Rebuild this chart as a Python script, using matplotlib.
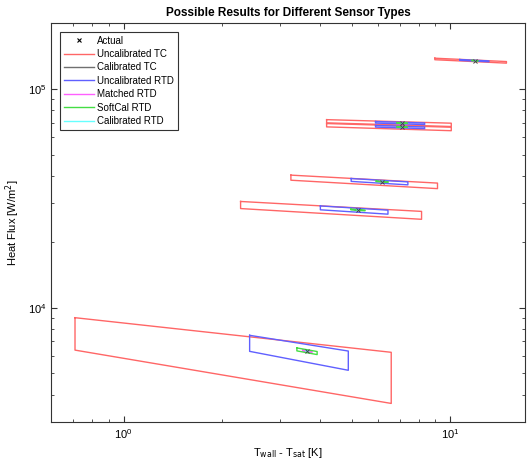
import numpy as np
import matplotlib
matplotlib.use('Agg')
import matplotlib.pyplot as plt
from matplotlib.ticker import NullFormatter
from matplotlib.lines import Line2D

plt.rcParams['font.family'] = ['Liberation Sans', 'DejaVu Sans']

# test cases: actual superheat [K], actual heat flux [W/m^2], slope dq/dT of the error band
case_dT = [3.65, 5.22, 6.19, 7.12, 7.12, 11.9]
case_q = [6320, 27950, 37660, 69800, 66900, 134600]
case_slope = [-467, -516, -551, -450, -450, -816]

# uncertainty of each sensor type: half width in dT [K] and half height in q [W/m^2]
sensor_names = ['Uncalibrated TC', 'Calibrated TC', 'Uncalibrated RTD',
                'Matched RTD', 'SoftCal RTD', 'Calibrated RTD']
sensor_colors = ['#ff6666', '#707070', '#6060ff', '#ff60ff', '#44dd44', '#66ffff']
sensor_dx = [2.94, 0.06, 1.22, 0.12, 0.26, 0.03]
sensor_dq = [1200, 30, 580, 45, 100, 15]
# uncalibrated TC flux band changes a little from case to case
tc_dq = [1300, 1100, 1050, 1200, 1200, 1100]


def box(x0, q0, s, dx, dq):
    xs = [x0 - dx, x0 - dx, x0 + dx, x0 + dx, x0 - dx]
    qs = [q0 - s*dx + dq, q0 - s*dx - dq, q0 + s*dx - dq, q0 + s*dx + dq, q0 - s*dx + dq]
    return xs, qs


fig = plt.figure(figsize=(5.27, 4.65), dpi=100)
ax = fig.add_axes([0.097, 0.0925, 0.899, 0.858])

for k in range(len(sensor_names)):
    for i in range(len(case_dT)):
        dq = tc_dq[i] if k == 0 else sensor_dq[k]
        xs, qs = box(case_dT[i], case_q[i], case_slope[i], sensor_dx[k], dq)
        ax.plot(xs, qs, '-', color=sensor_colors[k], lw=1.0, zorder=2+k)

ax.plot(case_dT, case_q, 'x', color='#444444', ms=3.2, mew=0.7, zorder=10)

ax.set_xscale('log')
ax.set_yscale('log')
ax.set_xlim(0.6, 16.9)
ax.set_ylim(3000, 2e5)
ax.xaxis.set_minor_formatter(NullFormatter())
ax.yaxis.set_minor_formatter(NullFormatter())
ax.tick_params(which='both', direction='in', top=True, right=True, labelsize=8, color='#333333')
ax.tick_params(which='major', length=4)
ax.tick_params(which='minor', length=2)
for sp in ax.spines.values():
    sp.set_color('#333333')
    sp.set_linewidth(0.8)

ax.set_title('Possible Results for Different Sensor Types', fontsize=8.5, fontweight='bold', pad=5)
ax.set_xlabel(r'T$_{\mathrm{wall}}$ - T$_{\mathrm{sat}}$ [K]', fontsize=8)
ax.set_ylabel('Heat Flux [W/m$^2$]', fontsize=8)

handles = [Line2D([], [], ls='none', marker='x', color='k', ms=3.5, mew=0.8)]
for k in range(len(sensor_names)):
    handles.append(Line2D([], [], color=sensor_colors[k], lw=1.0))
leg = ax.legend(handles, ['Actual'] + sensor_names, loc='upper left', fontsize=7,
                fancybox=False, edgecolor='#333333', framealpha=1, handlelength=3.1,
                labelspacing=0.35, borderaxespad=0.9, handletextpad=0.3)
leg.get_frame().set_linewidth(0.8)

fig.savefig('out.png', dpi=100)
